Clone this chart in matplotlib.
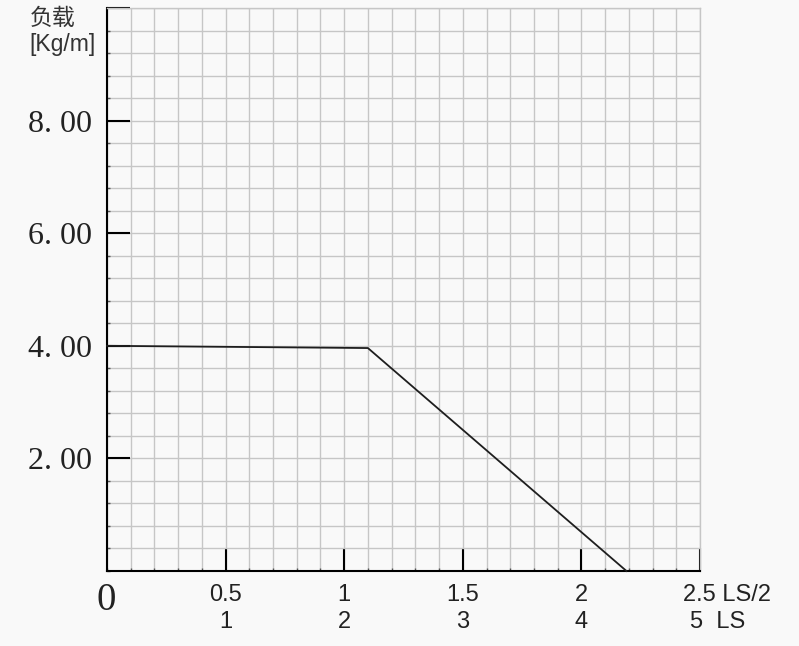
import numpy as np
import matplotlib
matplotlib.use("Agg")
import matplotlib.pyplot as plt
from matplotlib.ticker import MultipleLocator

# 荷重曲線のデータ
span_half = [0.0, 1.1, 2.19]
load = [4.0, 3.96, 0.0]

y_ticks = [2, 4, 6, 8, 10]
y_labels = ["2. 00", "4. 00", "6. 00", "8. 00", ""]
x_ticks = [0.5, 1.0, 1.5, 2.0]
x_top = ["0.5", "1", "1.5", "2"]
x_bottom = ["1", "2", "3", "4"]

plt.rcParams['font.family'] = ['Liberation Sans', 'Noto Sans CJK SC', 'DejaVu Sans']

fig = plt.figure(figsize=(7.99, 6.46), dpi=100, facecolor="#f9f9f9")
ax = fig.add_axes([107 / 799, 1 - 571 / 646, 593 / 799, 563 / 646])
ax.set_facecolor("#f9f9f9")

ax.set_xlim(0, 2.5)
ax.set_ylim(0, 10)

# グリッド
ax.xaxis.set_minor_locator(MultipleLocator(0.1))
ax.yaxis.set_minor_locator(MultipleLocator(0.4))
ax.grid(which="minor", color="#c6c6c6", linewidth=1.0)
ax.grid(which="major", color="#c6c6c6", linewidth=1.0)
ax.set_axisbelow(True)

for s in ["top", "right"]:
    ax.spines[s].set_color("#c6c6c6")
    ax.spines[s].set_linewidth(1.0)
for s in ["left", "bottom"]:
    ax.spines[s].set_color("black")
    ax.spines[s].set_linewidth(1.5)

ax.plot(span_half, load, color="#1e1e1e", linewidth=1.3, clip_on=False, zorder=3)

# 目盛り
ax.set_yticks(y_ticks)
ax.set_yticklabels(y_labels, fontfamily="Liberation Serif", fontsize=23, color="#222222")
ax.set_xticks(x_ticks + [2.5])
ax.set_xticklabels(["" for _ in range(5)])
ax.tick_params(axis="both", which="major", direction="in", length=16.5, width=1.5,
               color="black", pad=11)
ax.tick_params(axis="both", which="minor", direction="in", length=2, width=1.0,
               color="#555555")

for x, t, b in zip(x_ticks, x_top, x_bottom):
    ax.annotate(t, xy=(x, 0), xycoords="data", xytext=(0, -24), textcoords="offset pixels",
                ha="center", va="center", fontsize=17, color="#222222")
    ax.annotate(b, xy=(x, 0), xycoords="data", xytext=(0, -51), textcoords="offset pixels",
                ha="center", va="center", fontsize=17, color="#222222")
ax.annotate("2.5 LS/2", xy=(2.5, 0), xycoords="data", xytext=(-17, -24),
            textcoords="offset pixels", ha="left", va="center", fontsize=17, color="#222222")
ax.annotate("5  LS", xy=(2.5, 0), xycoords="data", xytext=(-10, -51),
            textcoords="offset pixels", ha="left", va="center", fontsize=17, color="#222222")
ax.annotate("0", xy=(0, 0), xycoords="data", xytext=(-1, -30), textcoords="offset pixels",
            ha="center", va="center", fontsize=28, fontfamily="Liberation Serif",
            color="#222222")

fig.text(30 / 799, 1 - 18 / 646, "负载", fontsize=16.5, color="#333333", va="center",
         fontfamily=["Noto Sans CJK SC", "DejaVu Sans"])
fig.text(29 / 799, 1 - 45 / 646, "[Kg/m]", fontsize=16.5, color="#333333", va="center")

fig.savefig("out.png", dpi=100, facecolor=fig.get_facecolor())
